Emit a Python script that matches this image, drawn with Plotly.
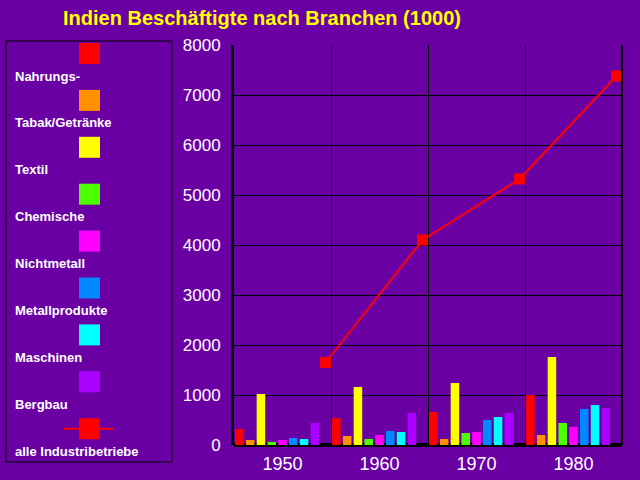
import plotly.graph_objects as go

years = [1950, 1960, 1970, 1980]
series_names = ["Nahrungs-", "Tabak/Getränke", "Textil", "Chemische", "Nichtmetall",
                "Metallprodukte", "Maschinen", "Bergbau"]
nahrung = [320, 540, 660, 1000]
tabak = [100, 180, 120, 200]
textil = [1020, 1160, 1240, 1760]
chemische = [60, 120, 240, 440]
nichtmetall = [100, 200, 260, 360]
metallprodukte = [140, 280, 500, 720]
maschinen = [120, 260, 560, 800]
bergbau = [440, 640, 640, 740]
alle_name = "alle Industribetriebe"
alle = [1650, 4100, 5320, 7380]
tick_labels = ["1950", "1960", "1970", "1980"]

series_values = [nahrung, tabak, textil, chemische, nichtmetall, metallprodukte, maschinen, bergbau]
colors = ["#ff0000", "#ff9000", "#ffff00", "#4cff00", "#ff00ff", "#0088ff", "#00ffff", "#aa00ff"]
BG = "#6a00a4"

W, H = 640, 480
L, R, T, B = 234, 622, 45, 445

span = 10.0
slot = span / 9
bw = 0.88

fig = go.Figure()
for i, (name, vals, col) in enumerate(zip(series_names, series_values, colors)):
    fig.add_trace(go.Bar(x=years, y=vals, name=name, marker=dict(color=col, line=dict(width=0)),
                         width=bw, offset=-span / 2 + i * slot + (slot - bw) / 2,
                         showlegend=False))
fig.add_trace(go.Scatter(x=[y - span / 2 + 8.5 * slot for y in years], y=alle, name=alle_name,
                         mode="lines+markers", line=dict(color="#ff0000", width=2),
                         marker=dict(symbol="square", size=11, color="#ff0000"),
                         showlegend=False))

def px(x):
    return (x - L) / (R - L)

def py(y):
    return (B - y) / (B - T)

shapes = []
annotations = []
# legend box
shapes.append(dict(type="rect", xref="paper", yref="paper", x0=px(6), x1=px(172), y0=py(41), y1=py(462),
                   line=dict(color="black", width=1), fillcolor="rgba(0,0,0,0)", layer="above"))
legend_names = series_names + [alle_name]
for k, name in enumerate(legend_names):
    top = 43 + k * 46.9
    if k < 8:
        shapes.append(dict(type="rect", xref="paper", yref="paper", x0=px(79), x1=px(100),
                           y0=py(top), y1=py(top + 21), fillcolor=colors[k], line=dict(width=0)))
    else:
        shapes.append(dict(type="line", xref="paper", yref="paper", x0=px(64), x1=px(114),
                           y0=py(top + 10.5), y1=py(top + 10.5), line=dict(color="#ff0000", width=2)))
        shapes.append(dict(type="rect", xref="paper", yref="paper", x0=px(79), x1=px(100),
                           y0=py(top), y1=py(top + 21), fillcolor="#ff0000", line=dict(width=0)))
    annotations.append(dict(xref="paper", yref="paper", x=px(13), y=py(top + 33), xanchor="left",
                            yanchor="middle", showarrow=False, text=name,
                            font=dict(family="Liberation Sans", size=13, color="white", weight="bold")))
# right border
shapes.append(dict(type="line", xref="paper", yref="paper", x0=1, x1=1, y0=0, y1=1,
                   line=dict(color="black", width=2)))

fig.update_layout(
    width=W, height=H,
    paper_bgcolor=BG, plot_bgcolor=BG,
    margin=dict(l=L, r=W - R, t=T, b=H - B, pad=0, autoexpand=False),
    barmode="overlay",
    title=dict(text="Indien Beschäftigte nach Branchen (1000)", x=262 / W, xanchor="center",
               y=1 - 18 / H, yanchor="middle",
               font=dict(family="Liberation Sans", size=20, color="#ffff00", weight="bold")),
    shapes=shapes, annotations=annotations,
    xaxis=dict(range=[1945, 1985], tickvals=years, ticktext=tick_labels, showgrid=False,
               automargin=False,
               zeroline=False, showline=False, ticks="", ticklabelstandoff=6,
               tickfont=dict(family="Liberation Sans", size=18, color="white"),
               minor=dict(tickvals=[1955, 1965, 1975], showgrid=True, gridcolor="black", gridwidth=1, ticks="")),
    yaxis=dict(range=[0, 8000], dtick=1000, showgrid=True, gridcolor="black", gridwidth=1,
               automargin=False,
               zeroline=True, zerolinecolor="black", zerolinewidth=4,
               showline=True, linecolor="black", linewidth=3, ticks="", ticklabelstandoff=7,
               tickfont=dict(family="Liberation Sans", size=17, color="white")),
)

fig.write_html("out.html", config={"displayModeBar": False},
               post_script="document.body.style.margin='0';document.body.style.background='" + BG + "';")
